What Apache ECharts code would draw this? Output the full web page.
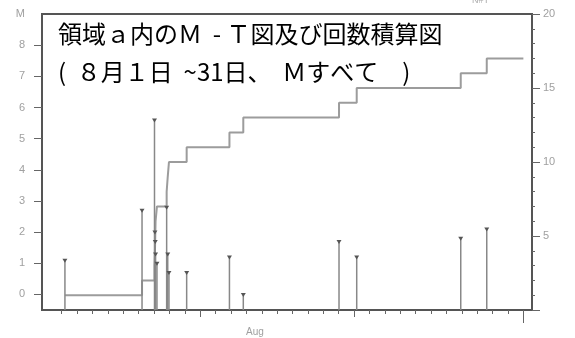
<!DOCTYPE html>
<html><head><meta charset="utf-8">
<script src="https://cdn.jsdelivr.net/npm/echarts@6/dist/echarts.min.js"></script>
<style>html,body{margin:0;padding:0;background:#fff}#c{width:575px;height:338px}</style>
</head><body><div id="c"></div>
<script>
// ---- data ----
const eventDays = [1.21, 6.22, 7.03, 7.06, 7.08, 7.10, 7.19, 7.82, 7.89, 7.97, 9.12, 11.90, 12.80, 19.02, 20.17, 26.93, 28.62];
const magnitudes = [1.1, 2.7, 5.6, 2.0, 1.7, 1.3, 1.0, 2.8, 1.3, 0.7, 0.7, 1.2, 0.0, 1.7, 1.2, 1.8, 2.1];
const cumulativeCount = [1, 2, 3, 4, 5, 6, 7, 8, 9, 10, 11, 12, 13, 14, 15, 16, 17];
const periodEndDay = 31;
const dayTicks = [1,2,3,4,5,6,7,8,9,10,11,12,13,14,15,16,17,18,19,20,21,22,23,24,25,26,27,28,29,30,31];
const majorDayTicks = [10, 20];
const monthEndTicks = [31];
const monthLabel = 'Aug';
const monthLabelDay = 13.56;
const magTicks = [0, 1, 2, 3, 4, 5, 6, 7, 8];
const magAxisNameValue = 9;
const magAxisName = 'M';
const countLabels = [5, 10, 15, 20];
const countAxisName = 'N#T';
const titleLine1 = '領域ａ内のＭ  - Ｔ図及び回数積算図';
const titleLine2 = '(  ８月１日  ~31日、  Ｍすべて　)';

// ---- build ----
const stems = eventDays.map((d, i) => [d, magnitudes[i]]);
const cumulative = eventDays.map((d, i) => [d, cumulativeCount[i]])
  .concat([[periodEndDay, cumulativeCount[cumulativeCount.length - 1]]]);

const X_MIN = -0.28, X_MAX = 31.56, M_MIN = -0.5, M_MAX = 9;
const axisColor = '#555';
const labelColor = '#a0a0a0';
const labelFont = 'Liberation Sans';

function xAxisBase(extra) {
  return Object.assign({
    type: 'value', position: 'bottom', min: X_MIN, max: X_MAX,
    splitLine: { show: false },
    axisLine: { show: false, onZero: false },
    axisLabel: { show: false },
    axisTick: { show: false }
  }, extra);
}

const chart = echarts.init(document.getElementById('c'), null, { renderer: 'canvas' });
chart.setOption({
  animation: false,
  backgroundColor: '#fff',
  grid: { left: 42, right: 43, top: 14, bottom: 28, show: true, borderColor: axisColor, borderWidth: 2, backgroundColor: 'transparent' },
  xAxis: [
    xAxisBase({
      axisLine: { show: true, onZero: false, lineStyle: { color: axisColor, width: 2 } },
      axisTick: { show: true, customValues: dayTicks, length: 4, lineStyle: { color: '#666', width: 1 } },
      axisLabel: { show: true, customValues: [monthLabelDay], formatter: () => monthLabel, margin: 17, color: labelColor, fontSize: 10, fontFamily: labelFont }
    }),
    xAxisBase({ axisTick: { show: true, customValues: majorDayTicks, length: 7, lineStyle: { color: '#666', width: 1 } } }),
    xAxisBase({ axisTick: { show: true, customValues: monthEndTicks, length: 13, lineStyle: { color: '#666', width: 1 } } })
  ],
  yAxis: [
    {
      type: 'value', position: 'left', min: M_MIN, max: M_MAX,
      splitLine: { show: false },
      axisLine: { show: true, onZero: false, lineStyle: { color: axisColor, width: 2 } },
      axisTick: { show: true, customValues: magTicks, length: 8, lineStyle: { color: '#666', width: 1 } },
      axisLabel: {
        customValues: magTicks.concat([magAxisNameValue]),
        formatter: v => (v === magAxisNameValue ? magAxisName : String(v)),
        margin: 17, color: labelColor, fontSize: 11, fontFamily: labelFont
      }
    },
    {
      type: 'value', position: 'right', min: 0, max: 20, interval: 5,
      splitLine: { show: false },
      axisLine: { show: true, onZero: false, lineStyle: { color: axisColor, width: 2 } },
      axisTick: { show: true, length: 8, lineStyle: { color: '#666', width: 1 } },
      minorTick: { show: true, splitNumber: 5, length: 3, lineStyle: { color: '#666', width: 1 } },
      minorSplitLine: { show: false },
      axisLabel: { customValues: countLabels, margin: 11, color: labelColor, fontSize: 11, fontFamily: labelFont }
    }
  ],
  graphic: [
    { type: 'text', x: 58, y: 34, style: { text: titleLine1, fontSize: 24, fontFamily: '"Noto Sans CJK JP"', fill: '#000', verticalAlign: 'middle' } },
    { type: 'text', x: 58, y: 72, style: { text: titleLine2, fontSize: 24, fontFamily: '"Noto Sans CJK JP"', fill: '#000', verticalAlign: 'middle' } },
    { type: 'text', x: 472, y: 1, style: { text: countAxisName, fontSize: 9, fontFamily: labelFont, fill: '#aaa', verticalAlign: 'middle' } }
  ],
  series: [
    {
      type: 'line', xAxisIndex: 0, yAxisIndex: 1, step: 'end',
      data: cumulative, showSymbol: false, symbol: 'none',
      lineStyle: { color: '#9c9c9c', width: 2 }, z: 2
    },
    {
      type: 'custom', xAxisIndex: 0, yAxisIndex: 0, data: stems, z: 3,
      renderItem: function (params, api) {
        const x = api.value(0), m = api.value(1);
        const top = api.coord([x, m]);
        const base = api.coord([x, M_MIN]);
        return {
          type: 'group', children: [
            { type: 'line', shape: { x1: top[0], y1: top[1], x2: base[0], y2: base[1] }, style: { stroke: '#888', lineWidth: 1.5 } },
            { type: 'polygon', shape: { points: [[top[0] - 2.5, top[1] - 1.5], [top[0] + 2.5, top[1] - 1.5], [top[0], top[1] + 2.5]] }, style: { fill: '#555' } }
          ]
        };
      }
    }
  ]
});
</script></body></html>
